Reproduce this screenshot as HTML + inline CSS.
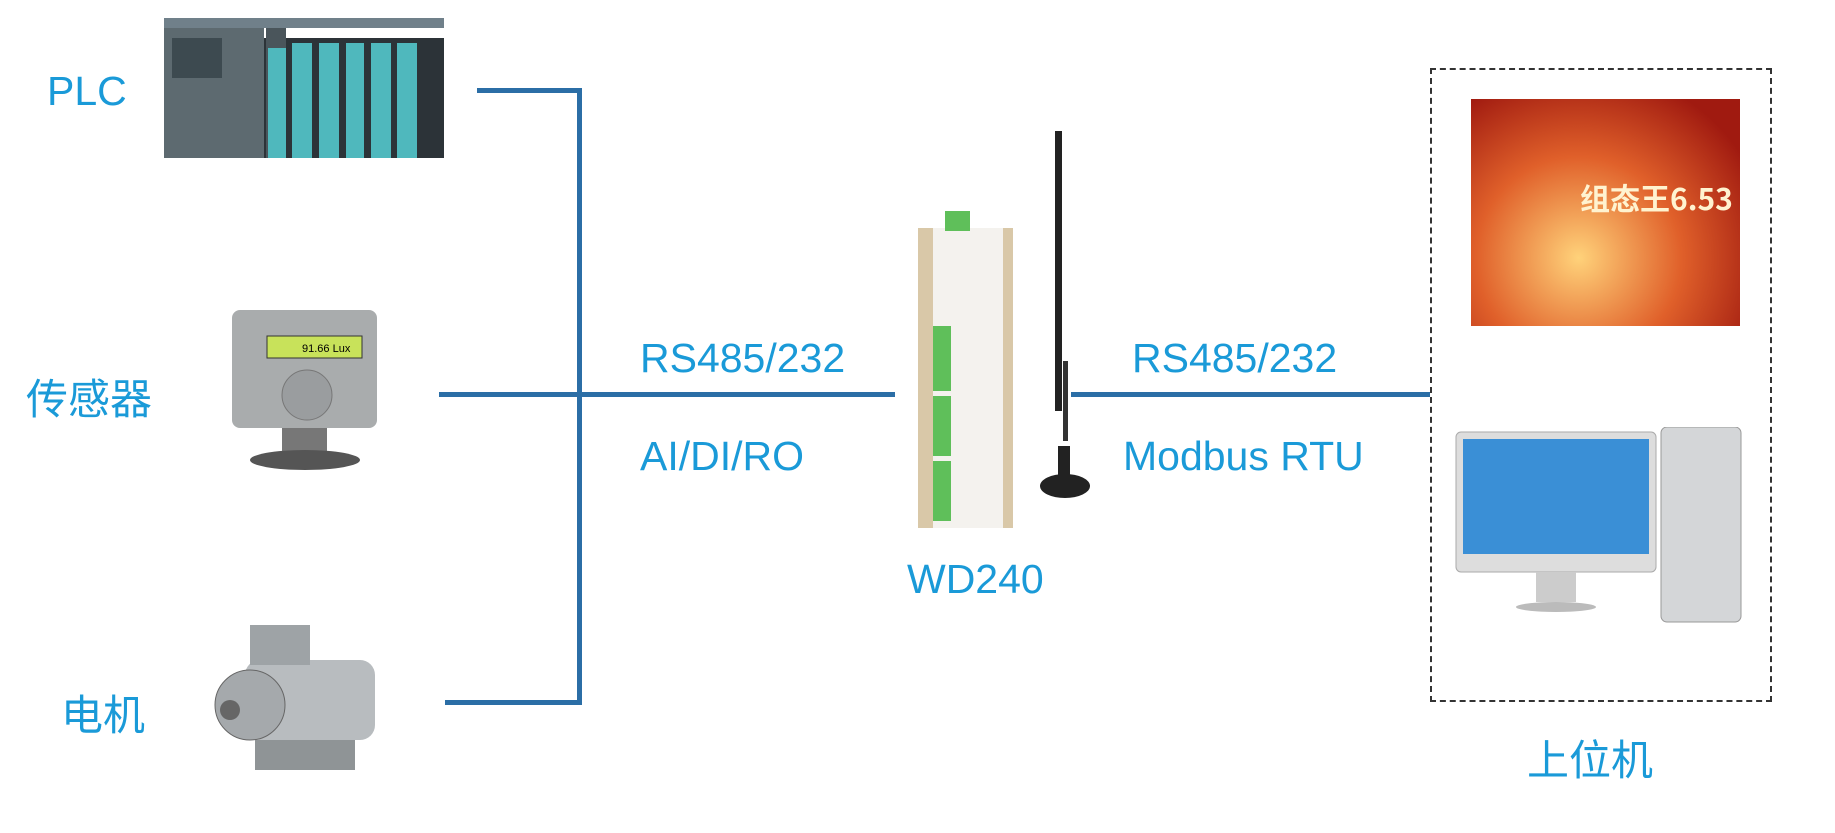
<!DOCTYPE html>
<html><head><meta charset="utf-8"><style>
body{margin:0;width:1835px;height:833px;background:#fff;position:relative;overflow:hidden;font-family:"Liberation Sans","Noto Sans CJK SC",sans-serif}
.t{position:absolute;color:#1a9ad8;font-size:41px;line-height:1;white-space:nowrap}
.c{font-size:42px}
.l{position:absolute;background:#2b6ea6}
.a{position:absolute}
</style></head><body>
<div class="t" style="left:47px;top:71px">PLC</div>
<div class="t c" style="left:26px;top:379px">传感器</div>
<div class="t c" style="left:61px;top:695px">电机</div>
<div class="t" style="left:640px;top:338px">RS485/232</div>
<div class="t" style="left:640px;top:436px">AI/DI/RO</div>
<div class="t" style="left:1132px;top:338px">RS485/232</div>
<div class="t" style="left:1123px;top:436px">Modbus RTU</div>
<div class="t" style="left:907px;top:559px">WD240</div>
<div class="t c" style="left:1527px;top:740px">上位机</div>

<div class="l" style="left:477px;top:88px;width:105px;height:5px"></div>
<div class="l" style="left:577px;top:88px;width:5px;height:617px"></div>
<div class="l" style="left:439px;top:392px;width:456px;height:5px"></div>
<div class="l" style="left:445px;top:700px;width:137px;height:5px"></div>
<div class="l" style="left:1071px;top:392px;width:359px;height:5px"></div>

<div class="a" style="left:1430px;top:68px;width:338px;height:630px;border:2px dashed #333"></div>

<!-- PLC -->
<svg class="a" style="left:164px;top:18px" width="280" height="142">
<rect x="0" y="10" width="100" height="130" fill="#5d6a70"/>
<rect x="8" y="20" width="50" height="40" fill="#3d4a50"/>
<rect x="100" y="20" width="180" height="120" fill="#2c3338"/>
<rect x="102" y="5" width="20" height="135" fill="#4a555b"/>
<g fill="#4fb8bd"><rect x="104" y="30" width="18" height="110"/><rect x="128" y="25" width="20" height="115"/><rect x="155" y="25" width="20" height="115"/><rect x="182" y="25" width="18" height="115"/><rect x="207" y="25" width="20" height="115"/><rect x="233" y="25" width="20" height="115"/></g>
<rect x="0" y="0" width="280" height="10" fill="#70808a"/>
</svg>
<!-- Sensor -->
<svg class="a" style="left:222px;top:310px" width="166" height="166">
<rect x="10" y="0" width="145" height="118" rx="8" fill="#a9acad"/>
<rect x="45" y="26" width="95" height="22" fill="#c8e25a" stroke="#333"/>
<text x="80" y="42" font-size="11" font-family="Liberation Sans">91.66 Lux</text>
<circle cx="85" cy="85" r="25" fill="#9a9d9f" stroke="#777"/>
<rect x="60" y="118" width="45" height="25" fill="#777"/>
<ellipse cx="83" cy="150" rx="55" ry="10" fill="#555"/>
</svg>
<!-- Motor -->
<svg class="a" style="left:205px;top:620px" width="190" height="155">
<rect x="40" y="40" width="130" height="80" rx="15" fill="#b8bcbf"/>
<rect x="45" y="5" width="60" height="40" fill="#9ea3a6"/>
<circle cx="45" cy="85" r="35" fill="#a5a9ac" stroke="#666"/>
<circle cx="25" cy="90" r="10" fill="#666"/>
<rect x="50" y="120" width="100" height="30" fill="#8f9496"/>
</svg>
<!-- Device -->
<svg class="a" style="left:913px;top:131px" width="180" height="400">
<rect x="5" y="97" width="95" height="300" fill="#d9c8a8"/>
<rect x="20" y="97" width="70" height="300" fill="#f4f2ee"/>
<rect x="32" y="80" width="25" height="20" fill="#5fbf5a"/>
<g fill="#5fbf5a"><rect x="20" y="195" width="18" height="65"/><rect x="20" y="265" width="18" height="60"/><rect x="20" y="330" width="18" height="60"/></g>
<rect x="142" y="0" width="7" height="280" fill="#222"/>
<rect x="150" y="230" width="5" height="80" fill="#333"/>
<ellipse cx="152" cy="355" rx="25" ry="12" fill="#222"/>
<rect x="145" y="315" width="12" height="40" fill="#222"/>
</svg>
<!-- Splash -->
<div class="a" style="left:1471px;top:99px;width:269px;height:227px;background:radial-gradient(ellipse at 40% 70%,#ffd27a,#e0602a 45%,#a01a10 85%)"></div>
<div class="a" style="left:1580px;top:175px;font:bold 30px 'Noto Sans CJK SC',sans-serif;color:#fff3d0">组态王6.53</div>
<!-- Computer -->
<svg class="a" style="left:1451px;top:427px" width="296" height="200">
<rect x="5" y="5" width="200" height="140" rx="5" fill="#ddd" stroke="#aaa"/>
<rect x="12" y="12" width="186" height="115" fill="#3a8fd6"/>
<rect x="85" y="145" width="40" height="30" fill="#ccc"/>
<ellipse cx="105" cy="180" rx="40" ry="5" fill="#bbb"/>
<rect x="210" y="0" width="80" height="195" rx="6" fill="#d4d6d8" stroke="#999"/>
</svg>
</body></html>
